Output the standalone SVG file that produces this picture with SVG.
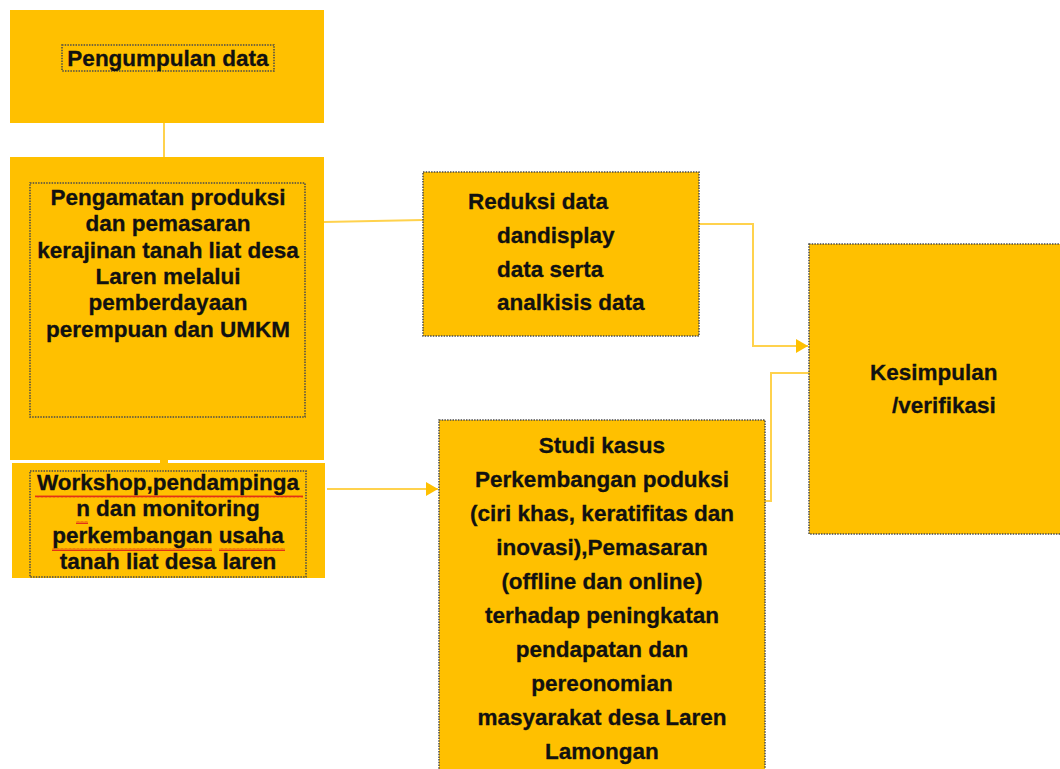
<svg xmlns="http://www.w3.org/2000/svg" width="1060" height="769" viewBox="0 0 1060 769">
<style>
.box{fill:#FFC000}
.dot{fill:none;stroke:#4a4a4a;stroke-width:1.5;stroke-dasharray:1.5 1.2}
.t{font-family:"Liberation Sans",Arial,sans-serif;font-weight:bold;font-size:22.5px;fill:#111;stroke:#111;stroke-width:0.3}
.c{text-anchor:middle}
.ln{fill:none;stroke:#FFD24D;stroke-width:2}
.sq{fill:url(#wave)}
</style>
<defs>
<marker id="ah" viewBox="0 0 12 14" refX="12" refY="7" markerWidth="12" markerHeight="14" markerUnits="userSpaceOnUse" orient="auto">
<path d="M0,0 L12,7 L0,14 Z" fill="#FFC000"/>
</marker>
<pattern id="wave" width="4" height="3" patternUnits="userSpaceOnUse">
<path d="M0,2.5 L1,0.5 L2,2.5 L3,0.5 L4,2.5" fill="none" stroke="#e0201a" stroke-width="0.9"/>
</pattern>
</defs>
<rect width="1060" height="769" fill="#fff"/>
<g id="connectors">
<line class="ln" x1="164" y1="123" x2="164" y2="157"/>
<rect x="160" y="459" width="8" height="5" fill="#FFC000"/>
<path class="ln" d="M324,222 L423,220"/>
<path class="ln" d="M699,224 H753 V346 H808" marker-end="url(#ah)"/>
<path class="ln" d="M327,489 H438" marker-end="url(#ah)"/>
<path class="ln" d="M765,501 H771 V373 H809"/>
</g>
<g id="node-pengumpulan">
<rect class="box" x="10" y="10" width="314" height="113"/>
<rect class="dot" x="62" y="45" width="212" height="26"/>
<text class="t c" x="168" y="66">Pengumpulan data</text>
</g>
<g id="node-pengamatan">
<rect class="box" x="10" y="157" width="314" height="303"/>
<rect class="dot" x="30" y="183" width="275" height="234"/>
<text class="t c" x="168" y="205">Pengamatan produksi</text>
<text class="t c" x="168" y="231">dan pemasaran</text>
<text class="t c" x="168" y="258">kerajinan tanah liat desa</text>
<text class="t c" x="168" y="284">Laren melalui</text>
<text class="t c" x="168" y="310">pemberdayaan</text>
<text class="t c" x="168" y="337">perempuan dan UMKM</text>
</g>
<g id="node-workshop">
<rect class="box" x="12" y="463" width="313" height="115"/>
<rect class="dot" x="30" y="471" width="276" height="106"/>
<rect class="sq" x="35" y="495" width="268" height="3"/>
<rect class="sq" x="76" y="521" width="12" height="3"/>
<rect class="sq" x="52" y="548" width="160" height="3"/>
<rect class="sq" x="219" y="548" width="66" height="3"/>
<text class="t c" x="168" y="490">Workshop,pendampinga</text>
<text class="t c" x="168" y="516">n dan monitoring</text>
<text class="t c" x="168" y="543">perkembangan usaha</text>
<text class="t c" x="168" y="569">tanah liat desa laren</text>
</g>
<g id="node-reduksi">
<rect class="box" x="423" y="172" width="276" height="164"/>
<rect class="dot" x="423" y="172" width="276" height="164"/>
<text class="t" x="468" y="209">Reduksi data</text>
<text class="t" x="497" y="243">dandisplay</text>
<text class="t" x="497" y="277">data serta</text>
<text class="t" x="497" y="310">analkisis data</text>
</g>
<g id="node-kesimpulan">
<rect class="box" x="809" y="244" width="260" height="290"/>
<rect class="dot" x="809" y="244" width="260" height="290"/>
<text class="t" x="870" y="380">Kesimpulan</text>
<text class="t" x="892" y="413">/verifikasi</text>
</g>
<g id="node-studi">
<rect class="box" x="439" y="420" width="326" height="360"/>
<rect class="dot" x="439" y="420" width="326" height="360"/>
<text class="t c" x="602" y="453">Studi kasus</text>
<text class="t c" x="602" y="487">Perkembangan poduksi</text>
<text class="t c" x="602" y="521">(ciri khas, keratifitas dan</text>
<text class="t c" x="602" y="555">inovasi),Pemasaran</text>
<text class="t c" x="602" y="589">(offline dan online)</text>
<text class="t c" x="602" y="623">terhadap peningkatan</text>
<text class="t c" x="602" y="657">pendapatan dan</text>
<text class="t c" x="602" y="691">pereonomian</text>
<text class="t c" x="602" y="725">masyarakat desa Laren</text>
<text class="t c" x="602" y="759">Lamongan</text>
</g>
</svg>
